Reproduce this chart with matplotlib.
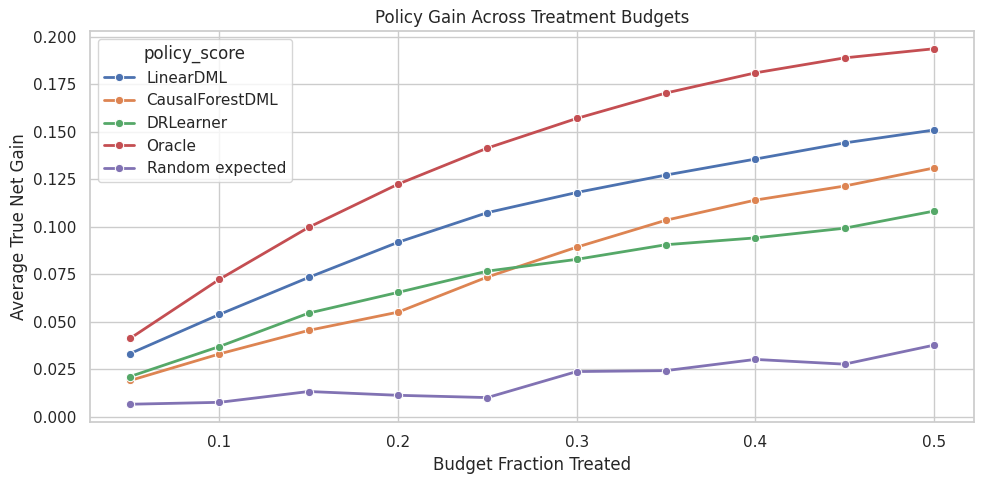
import matplotlib
matplotlib.use("Agg")
import matplotlib.pyplot as plt
import seaborn as sns
import pandas as pd

budgets = [0.05, 0.10, 0.15, 0.20, 0.25, 0.30, 0.35, 0.40, 0.45, 0.50]
policies = ["LinearDML", "CausalForestDML", "DRLearner", "Oracle", "Random expected"]
linear_dml = [0.0332, 0.0538, 0.0733, 0.0918, 0.1074, 0.1180, 0.1272, 0.1356, 0.1441, 0.1509]
causal_forest = [0.0190, 0.0330, 0.0454, 0.0550, 0.0735, 0.0892, 0.1034, 0.1140, 0.1214, 0.1309]
dr_learner = [0.0211, 0.0369, 0.0545, 0.0654, 0.0766, 0.0828, 0.0905, 0.0941, 0.0992, 0.1082]
oracle = [0.0412, 0.0723, 0.0997, 0.1224, 0.1414, 0.1570, 0.1704, 0.1810, 0.1889, 0.1937]
random_expected = [0.0065, 0.0075, 0.0132, 0.0112, 0.0100, 0.0237, 0.0242, 0.0301, 0.0276, 0.0376]
x_ticks = [0.1, 0.2, 0.3, 0.4, 0.5]
y_ticks = [0.0, 0.025, 0.05, 0.075, 0.1, 0.125, 0.15, 0.175, 0.2]

series = [linear_dml, causal_forest, dr_learner, oracle, random_expected]
rows = []
for name, vals in zip(policies, series):
    for b, v in zip(budgets, vals):
        rows.append({"budget": b, "gain": v, "policy_score": name})
df = pd.DataFrame(rows)

sns.set_theme(style="whitegrid")
fig, ax = plt.subplots(figsize=(9.84, 4.84), dpi=100)
sns.lineplot(data=df, x="budget", y="gain", hue="policy_score", hue_order=policies,
             marker="o", linewidth=2, ax=ax)
ax.set_title("Policy Gain Across Treatment Budgets")
ax.set_xlabel("Budget Fraction Treated")
ax.set_ylabel("Average True Net Gain")
ax.set_xticks(x_ticks)
ax.set_xticklabels([f"{v:g}" for v in x_ticks])
ax.set_yticks(y_ticks)
ax.set_yticklabels([f"{v:.3f}" for v in y_ticks])
ax.legend(title="policy_score", loc="upper left")
fig.subplots_adjust(left=90 / 984, right=974 / 984, top=1 - 31 / 484, bottom=1 - 422 / 484)
fig.savefig("out.png", dpi=100)
